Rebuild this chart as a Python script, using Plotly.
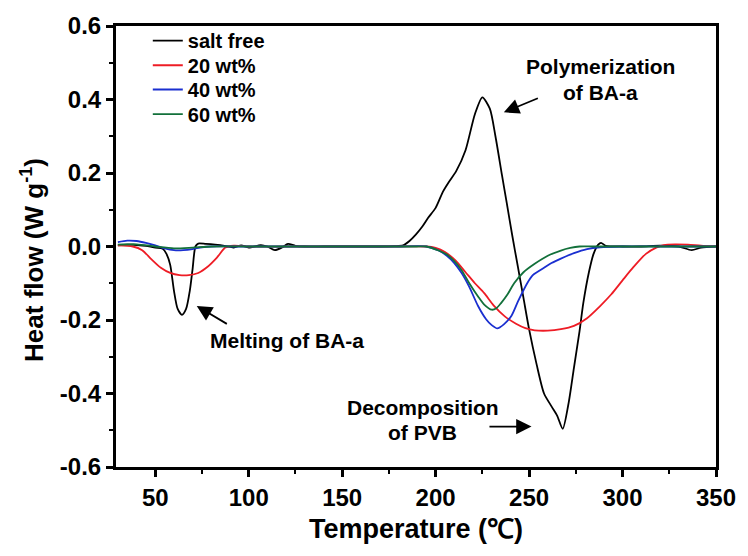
import plotly.graph_objects as go

# ---------------- data ----------------
salt_free_x = [30, 35, 40, 45, 50, 54, 56, 58, 60, 62, 64.3, 66.5, 68.5, 70, 71.5, 73, 77, 82, 87, 92, 96,
               100, 106.5, 110, 114, 118, 121, 125, 130, 140, 150, 160, 170, 178, 182.6, 186, 189.5, 193,
               196, 200, 204, 207, 211, 216, 221, 225, 229, 232, 235.5, 238, 241, 244, 247, 250, 254, 258,
               262, 265, 268, 271, 274, 277, 279, 282, 284.5, 287, 288.5, 291, 300, 310, 320, 330, 337,
               342, 350]
salt_free_y = [0.003, 0.005, 0.004, 0.002, -0.003, -0.006, -0.02, -0.05, -0.12, -0.17, -0.186, -0.17, -0.12,
               -0.06, 0.0, 0.008, 0.007, 0.005, 0.002, -0.003, 0.003, -0.003, 0.004, 0.0, -0.01, -0.002,
               0.007, 0.002, 0.0, 0.0, 0.0, 0.0, 0.0, 0.001, 0.003, 0.015, 0.033, 0.055, 0.078, 0.105,
               0.15, 0.175, 0.205, 0.262, 0.36, 0.406, 0.375, 0.3, 0.194, 0.12, 0.03, -0.055, -0.14,
               -0.225, -0.32, -0.40, -0.435, -0.46, -0.496, -0.43, -0.33, -0.23, -0.154, -0.07, -0.02,
               0.005, 0.01, 0.002, 0.0, 0.0, 0.002, 0.0, -0.01, -0.003, 0.0]

wt20_x = [30, 38, 43, 48, 53, 58, 63, 68, 73, 78, 83, 87.5, 92, 100, 120, 140, 160, 180, 195, 200, 205,
          210.6, 216, 221, 226, 231, 237, 243, 248, 253, 260, 267, 274, 281, 288, 294, 300, 306, 312.5, 318,
          322, 328, 335, 342, 350]
wt20_y = [0.003, 0.0, -0.01, -0.035, -0.058, -0.072, -0.078, -0.078, -0.072, -0.055, -0.03, -0.003, 0.002,
          0.0, 0.0, 0.0, 0.0, 0.0, 0.0, -0.004, -0.015, -0.038, -0.07, -0.1, -0.127, -0.16, -0.19, -0.21,
          -0.222, -0.228, -0.229, -0.225, -0.216, -0.195, -0.162, -0.13, -0.092, -0.055, -0.02, -0.003,
          0.004, 0.006, 0.005, 0.002, 0.0]

wt40_x = [30, 35, 40, 45, 50, 55, 60, 65, 70, 75, 80, 90, 120, 150, 180, 195, 201.6, 206, 210, 214, 218,
          222.7, 227, 230, 233, 236.5, 240.5, 244, 249, 252, 254.6, 258, 262, 267, 274, 281, 288, 300, 320,
          350]
wt40_y = [0.012, 0.016, 0.015, 0.01, 0.003, -0.005, -0.01, -0.01, -0.007, -0.002, 0.0, 0.0, 0.0, 0.0, 0.0,
          0.0, -0.011, -0.025, -0.045, -0.073, -0.11, -0.162, -0.198, -0.214, -0.223, -0.212, -0.189,
          -0.15, -0.1, -0.078, -0.069, -0.058, -0.045, -0.033, -0.018, -0.007, -0.002, 0.0, 0.0, 0.0]

wt60_x = [30, 40, 50, 60, 70, 80, 100, 130, 160, 190, 195, 201.6, 206, 210, 214, 218, 222.7, 226, 230,
          232.5, 235, 238.5, 242, 247, 253, 260, 267, 272, 277, 285, 300, 350]
wt60_y = [0.005, 0.006, 0.0, -0.005, -0.003, 0.0, 0.0, 0.0, 0.0, 0.0, 0.0, -0.011, -0.022, -0.04, -0.065,
          -0.1, -0.136, -0.158, -0.172, -0.168, -0.154, -0.13, -0.1, -0.07, -0.047, -0.025, -0.011, -0.004,
          0.0, 0.0, 0.0, 0.0]

series_names = ["salt free", "20 wt%", "40 wt%", "60 wt%"]
series_colors = ["#000000", "#ee1c25", "#1a2fd0", "#12703a"]

x_ticks = [50, 100, 150, 200, 250, 300, 350]
y_ticks = [0.6, 0.4, 0.2, 0.0, -0.2, -0.4, -0.6]
y_tick_text = ["0.6", "0.4", "0.2", "0.0", "-0.2", "-0.4", "-0.6"]

FONT = "Liberation Sans, Arial, sans-serif"

# one legend box per entry so the rows sit at the reference's spacing
legend_ids = ["legend", "legend2", "legend3", "legend4"]
legend_rows_y = [0.967, 0.911, 0.856, 0.800]

fig = go.Figure()
for xs, ys, name, col, lg in zip([salt_free_x, wt20_x, wt40_x, wt60_x],
                                 [salt_free_y, wt20_y, wt40_y, wt60_y],
                                 series_names, series_colors, legend_ids):
    fig.add_trace(go.Scatter(x=xs, y=ys, name=name, mode="lines", legend=lg, showlegend=True,
                             line=dict(color=col, width=1.8, shape="spline", smoothing=0.7)))

axis_common = dict(showline=True, linewidth=3, linecolor="black", mirror=True,
                   ticks="outside", ticklen=7, tickwidth=2.5, tickcolor="black",
                   showgrid=False, zeroline=False,
                   tickfont=dict(family=FONT, size=24, color="black", weight="bold"))

fig.update_xaxes(range=[29, 350], tickvals=x_ticks,
                 minor=dict(ticks="outside", ticklen=4, tickwidth=2, tickcolor="black", dtick=25, tick0=0),
                 title=dict(text="Temperature (℃)", font=dict(family=FONT, size=27, color="black", weight="bold"),
                            standoff=10),
                 **axis_common)
fig.update_yaxes(range=[-0.6, 0.6], tickvals=y_ticks, ticktext=y_tick_text,
                 minor=dict(ticks="outside", ticklen=4, tickwidth=2, tickcolor="black", dtick=0.1, tick0=0),
                 **axis_common)

# y-axis title placed as a rotated annotation for exact placement
fig.add_annotation(xref="paper", yref="paper", x=-0.138, y=0.47, text="Heat flow (W g<sup>-1</sup>)",
                   textangle=-90, showarrow=False, xanchor="center", yanchor="middle",
                   font=dict(family=FONT, size=26, color="black", weight="bold"))

ann_font = dict(family=FONT, size=21, color="black", weight="bold")
texts = [("Polymerization", 288, 0.49), ("of BA-a", 288, 0.418),
         ("Melting of BA-a", 120.5, -0.256),
         ("Decomposition", 193, -0.437), ("of PVB", 193, -0.505)]
for t, x, y in texts:
    fig.add_annotation(x=x, y=y, text=t, showarrow=False, font=ann_font, xanchor="center", yanchor="middle")

arrows = [((236.5, 0.365), (255.5, 0.405)),
          ((72.2, -0.162), (89.1, -0.213)),
          ((251.3, -0.49), (228, -0.49))]
for (hx, hy), (tx, ty) in arrows:
    fig.add_annotation(x=hx, y=hy, ax=tx, ay=ty, axref="x", ayref="y", xref="x", yref="y",
                       text="", showarrow=True, arrowhead=2, arrowsize=1.7, arrowwidth=1.8,
                       arrowcolor="black")

layout_legends = {}
for lg, ly in zip(legend_ids, legend_rows_y):
    layout_legends[lg] = dict(x=0.053, y=ly, xanchor="left", yanchor="middle", bgcolor="rgba(0,0,0,0)",
                              font=dict(family=FONT, size=20, color="black", weight="bold"),
                              itemwidth=30)

fig.update_layout(width=748, height=556, margin=dict(l=116, r=24, t=18, b=89), showlegend=True,
                  paper_bgcolor="white", plot_bgcolor="white", **layout_legends)

fig.write_html("out.html")
